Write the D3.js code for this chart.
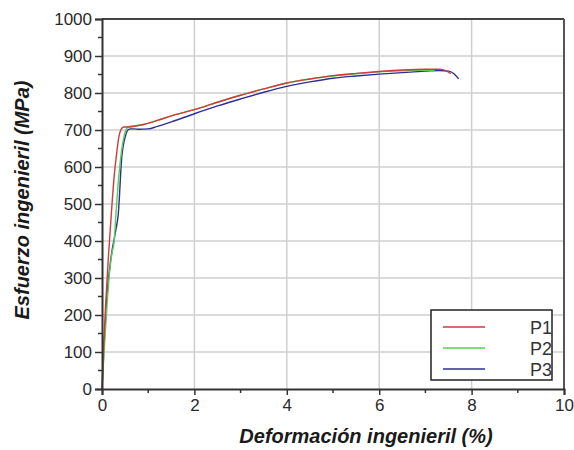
<!DOCTYPE html>
<meta charset="utf-8">
<style>
  body { margin: 0; background: #fff; }
  text { font-family: "Liberation Sans", Arial, sans-serif; }
</style>
<body>
<div id="chart"></div>
<script src="https://d3js.org/d3.v7.min.js"></script>
<script>
// series data (strain %, stress MPa)
var p1Strain = [0, 0.03, 0.08, 0.14, 0.2, 0.26, 0.32, 0.37, 0.42, 0.47, 0.55, 0.7, 0.9, 1.2, 1.5, 2.0, 2.5, 3.0, 3.5, 4.0, 4.5, 5.0, 5.5, 6.0, 6.5, 7.0, 7.3, 7.45, 7.55];
var p1Stress = [0, 100, 230, 360, 470, 570, 640, 685, 703, 708, 708, 710, 715, 726, 738, 755, 775, 794, 811, 827, 838, 847, 853, 858, 862, 864, 864, 860, 852];

var p2Strain = [0, 0.04, 0.1, 0.16, 0.22, 0.26, 0.3, 0.36, 0.42, 0.48, 0.54, 0.6, 0.7, 0.9, 1.2, 1.5, 2.0, 2.5, 3.0, 3.5, 4.0, 4.5, 5.0, 5.5, 6.0, 6.5, 7.0, 7.2];
var p2Stress = [0, 90, 210, 310, 370, 395, 470, 570, 640, 685, 705, 710, 711, 715, 726, 738, 755, 775, 794, 811, 827, 838, 846, 852, 857, 860, 862, 861];

var p3Strain = [0, 0.05, 0.1, 0.2, 0.3, 0.35, 0.43, 0.5, 0.56, 0.62, 0.7, 0.8, 1.0, 1.2, 1.5, 2.0, 2.5, 3.0, 3.5, 4.0, 4.5, 5.0, 5.5, 6.0, 6.5, 7.0, 7.3, 7.5, 7.62, 7.72];
var p3Stress = [0, 130, 240, 360, 430, 470, 630, 680, 700, 703, 703, 702, 703, 710, 722, 744, 765, 784, 802, 818, 830, 840, 846, 851, 855, 859, 861, 859, 852, 838];

var seriesNames = ["P1", "P2", "P3"];
var seriesColors = ["#d23a3a", "#55d055", "#2e2e96"];
var xTicks = [0, 2, 4, 6, 8, 10];
var yTicks = [0, 100, 200, 300, 400, 500, 600, 700, 800, 900, 1000];

var series = [
  { name: seriesNames[0], color: seriesColors[0], pts: d3.zip(p1Strain, p1Stress) },
  { name: seriesNames[1], color: seriesColors[1], pts: d3.zip(p2Strain, p2Stress) },
  { name: seriesNames[2], color: seriesColors[2], pts: d3.zip(p3Strain, p3Stress) }
];

var W = 574, H = 450;
var margin = { top: 19, right: 10, bottom: 61, left: 102 };
var width = W - margin.left - margin.right,
    height = H - margin.top - margin.bottom;

var svg = d3.select("#chart").append("svg")
  .attr("width", W)
  .attr("height", H);

var g = svg.append("g")
  .attr("transform", "translate(" + margin.left + "," + margin.top + ")");

var x = d3.scaleLinear().domain([0, 10]).range([0, width]);
var y = d3.scaleLinear().domain([0, 1000]).range([height, 0]);

// grid
g.append("g").selectAll("line")
  .data(xTicks.slice(1, -1))
  .join("line")
  .attr("x1", d => x(d)).attr("x2", d => x(d))
  .attr("y1", 0).attr("y2", height)
  .attr("stroke", "#cfcfcf").attr("stroke-width", 1.5);

g.append("g").selectAll("line")
  .data(yTicks.slice(1, -1))
  .join("line")
  .attr("x1", 0).attr("x2", width)
  .attr("y1", d => y(d)).attr("y2", d => y(d))
  .attr("stroke", "#cfcfcf").attr("stroke-width", 1.5);

// curves
var line = d3.line()
  .x(d => x(d[0]))
  .y(d => y(d[1]))
  .curve(d3.curveMonotoneX);

g.selectAll(".curve")
  .data(series.slice().reverse())
  .join("path")
  .attr("class", "curve")
  .attr("d", d => line(d.pts))
  .attr("fill", "none")
  .attr("stroke", d => d.color)
  .attr("stroke-width", 1.4);

// frame (top and right)
g.append("line").attr("x1", 0).attr("x2", width).attr("y1", 0).attr("y2", 0)
  .attr("stroke", "#444").attr("stroke-width", 2);
g.append("line").attr("x1", width).attr("x2", width).attr("y1", 0).attr("y2", height)
  .attr("stroke", "#555").attr("stroke-width", 2);

// minor ticks
g.append("g").selectAll("line")
  .data(d3.range(50, 1000, 100))
  .join("line")
  .attr("x1", -4).attr("x2", 0)
  .attr("y1", d => y(d)).attr("y2", d => y(d))
  .attr("stroke", "#333").attr("stroke-width", 1.5);
g.append("g").selectAll("line")
  .data(d3.range(1, 10, 2))
  .join("line")
  .attr("x1", d => x(d)).attr("x2", d => x(d))
  .attr("y1", height).attr("y2", height + 4)
  .attr("stroke", "#333").attr("stroke-width", 1.5);

// axes
var xAxis = d3.axisBottom(x).tickValues(xTicks).tickSize(6).tickPadding(4);
var yAxis = d3.axisLeft(y).tickValues(yTicks).tickFormat(d3.format("d")).tickSize(7).tickPadding(3);

var gx = g.append("g")
  .attr("transform", "translate(0," + height + ")")
  .call(xAxis);
var gy = g.append("g").call(yAxis);

[gx, gy].forEach(function(a) {
  a.select(".domain").attr("stroke", "#333").attr("stroke-width", 2);
  a.selectAll(".tick line").attr("stroke", "#333").attr("stroke-width", 1.5);
  a.selectAll(".tick text")
    .attr("fill", "#2a2a2a")
    .style("font-size", "17px")
    .style("font-family", "Liberation Sans, Arial, sans-serif");
});

// axis titles
svg.append("text")
  .attr("x", 366)
  .attr("y", 443)
  .attr("text-anchor", "middle")
  .style("font-size", "20px")
  .style("font-weight", "bold")
  .style("font-style", "italic")
  .attr("fill", "#1a1a1a")
  .text("Deformación ingenieril (%)");

svg.append("text")
  .attr("transform", "translate(29,200) rotate(-90)")
  .attr("text-anchor", "middle")
  .style("font-size", "20px")
  .style("font-weight", "bold")
  .style("font-style", "italic")
  .attr("fill", "#1a1a1a")
  .text("Esfuerzo ingenieril (MPa)");

// legend
var lg = svg.append("g").attr("transform", "translate(431,310)");
lg.append("rect")
  .attr("width", 121).attr("height", 70)
  .attr("fill", "#fff").attr("stroke", "#222").attr("stroke-width", 1.5);

var item = lg.selectAll(".item")
  .data(series)
  .join("g")
  .attr("class", "item")
  .attr("transform", (d, i) => "translate(0," + (17 + i * 21) + ")");

item.append("line")
  .attr("x1", 12).attr("x2", 54)
  .attr("stroke", d => d.color).attr("stroke-width", 1.3);

item.append("text")
  .attr("x", 121).attr("y", 7)
  .attr("text-anchor", "end")
  .attr("fill", "#333")
  .style("font-size", "18px")
  .text(d => d.name);
</script>
</body>
